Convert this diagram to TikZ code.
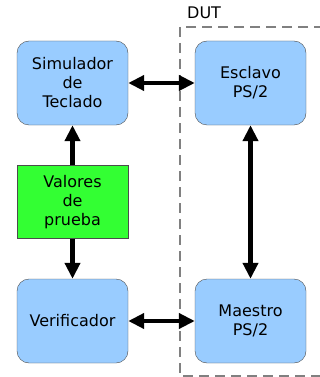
\documentclass[tikz,border=0pt]{standalone}
\usepackage{fontspec}
\setmainfont{DejaVu Sans}
\usetikzlibrary{arrows.meta}
\definecolor{boxblue}{HTML}{99CCFF}
\definecolor{boxgreen}{HTML}{33FF33}
\tikzset{
  block/.style ={draw=black!70, fill=boxblue, rounded corners=12pt,
                 minimum width=111pt, minimum height=84pt, align=center,
                 inner sep=0pt, font=\fontsize{16}{19}\selectfont},
  data/.style  ={block, fill=boxgreen, rounded corners=0pt, minimum height=73pt},
  link/.style  ={line width=4.5pt, {Triangle[length=16pt,width=15pt]}-{Triangle[length=16pt,width=15pt]}},
  feed/.style  ={line width=4.5pt, -{Triangle[length=16pt,width=15pt]}},
  ghost/.style ={draw=black!50, line width=2pt, dash pattern=on 10pt off 6pt},
}
\begin{document}
\begin{tikzpicture}[x=1pt, y=-1pt]
  \useasboundingbox (0,0) rectangle (320,377);

  %--- DUT frame (runs past the right edge) ---
  \draw[ghost] (340,27) -- (180,27) -- (180,376) -- (340,376);
  \node[anchor=west, inner sep=0pt, font=\fontsize{16}{19}\selectfont] (dut) at (187,13) {DUT};

  %--- Blocks ---
  \node[block] (sim) at (72.5,83)  {Simulador\\de\\Teclado};
  \node[data]  (val) at (72.5,202) {Valores\\de\\prueba};
  \node[block] (ver) at (72.5,321) {Verificador};
  \node[block] (esc) at (250.5,83)  {Esclavo\\PS/2};
  \node[block] (mae) at (250.5,321) {Maestro\\PS/2};

  %--- Connections ---
  \draw[link] (sim) -- (esc);
  \draw[link] (ver) -- (mae);
  \draw[link] (esc) -- (mae);
  \draw[feed] (val) -- (sim);
  \draw[feed] (val) -- (ver);
\end{tikzpicture}
\end{document}
